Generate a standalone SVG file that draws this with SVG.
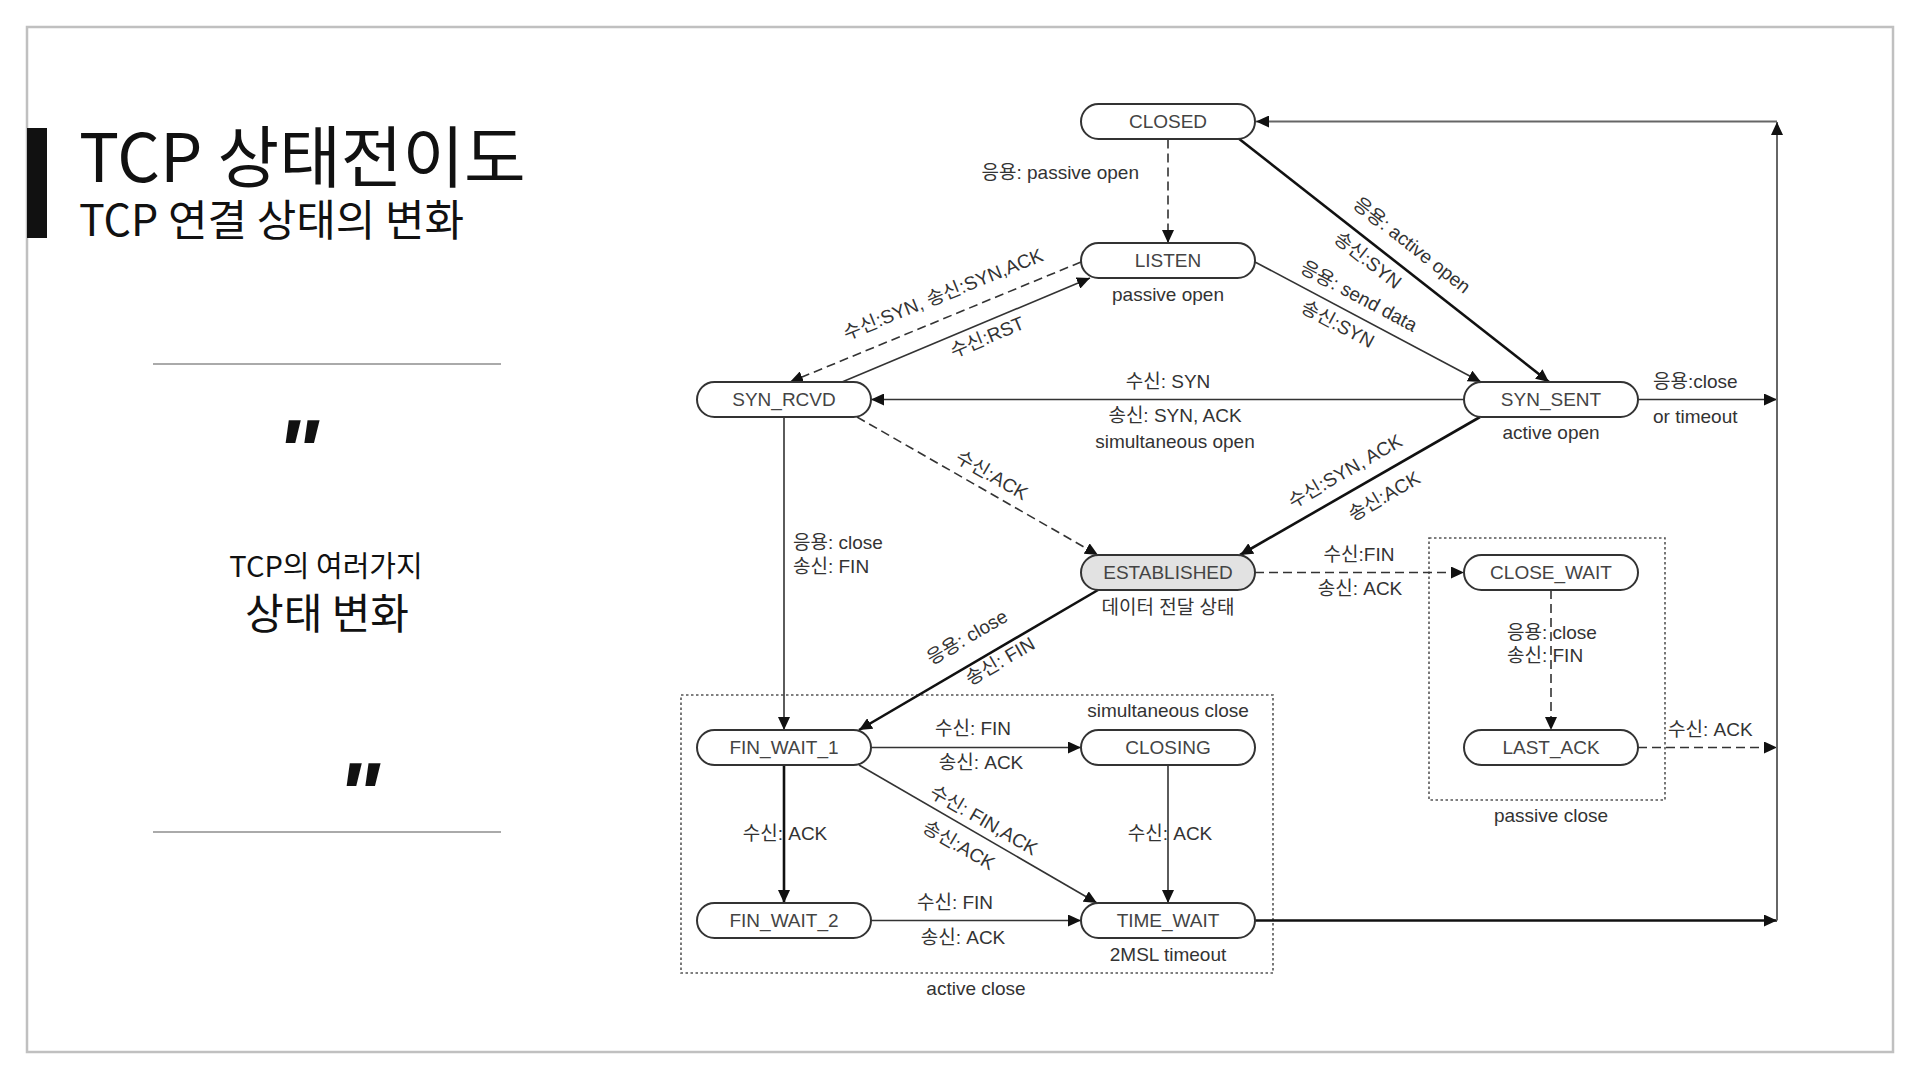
<svg xmlns="http://www.w3.org/2000/svg" width="1920" height="1080" viewBox="0 0 1920 1080">
<defs>
<style>
.bg{fill:#fff}
.frame{fill:none;stroke:#c0c0c0;stroke-width:2.5}
.node rect{fill:#fff;stroke:#333;stroke-width:2}
.node.est rect{fill:#e2e2e2}
.nt{font-family:"Liberation Sans","Noto Sans CJK KR",sans-serif;font-size:19px;fill:#444;text-anchor:middle}
.lbl{font-family:"Liberation Sans","Noto Sans CJK KR",sans-serif;font-size:19px;fill:#333}
.mid{text-anchor:middle}
.end{text-anchor:end}
.ln{fill:none;stroke:#333;stroke-width:1.6}
.thick{stroke:#111;stroke-width:2.6}
.dash{stroke-dasharray:9 5}
.gray{stroke:#666;stroke-width:2}
.group{fill:none;stroke:#555;stroke-width:1.6;stroke-dasharray:2.5 2.5}
.ko{font-family:"Noto Sans CJK KR","Noto Sans",sans-serif;fill:#111}
.quote{font-family:"Liberation Sans",sans-serif;font-size:90px;font-weight:bold;font-style:italic;fill:#111}
</style>
<marker id="arr" markerUnits="userSpaceOnUse" markerWidth="14" markerHeight="12" refX="13" refY="6" orient="auto">
<path d="M0,0 L13,6 L0,12 z" fill="#111"/>
</marker>
</defs>
<rect class="bg" x="0" y="0" width="1920" height="1080"/>
<rect class="frame" x="27" y="27" width="1866" height="1025"/>

<g id="title">
<rect x="27" y="128" width="20" height="110" fill="#111"/>
<text class="ko" x="79" y="182" font-size="67">TCP 상태전이도</text>
<text class="ko" x="79" y="236" font-size="43">TCP 연결 상태의 변화</text>
</g>

<g id="side-panel">
<line x1="153" y1="364" x2="501" y2="364" stroke="#aaa" stroke-width="2"/>
<line x1="153" y1="832" x2="501" y2="832" stroke="#aaa" stroke-width="2"/>
<text class="quote" x="276" y="483">"</text>
<text class="quote" x="337" y="826">"</text>
<text class="ko" x="326" y="577" font-size="29" text-anchor="middle">TCP의 여러가지</text>
<text class="ko" x="327" y="629" font-size="42" text-anchor="middle">상태 변화</text>
</g>

<g id="groups">
<rect class="group" x="681" y="695" width="592" height="278"/>
<rect class="group" x="1429" y="538" width="236" height="262"/>
<text class="lbl mid" x="1168" y="717">simultaneous close</text>
<text class="lbl mid" x="976" y="995">active close</text>
<text class="lbl mid" x="1551" y="822">passive close</text>
</g>

<g id="connectors">
<path class="ln dash" d="M1168,139.5 V243" marker-end="url(#arr)"/>
<path class="ln thick" d="M1238,138 L1549,382" marker-end="url(#arr)"/>
<path class="ln" d="M1255,262 L1481,382" marker-end="url(#arr)"/>
<path class="ln dash" d="M1081,262 L790,382" marker-end="url(#arr)"/>
<path class="ln" d="M842,382 L1090,278" marker-end="url(#arr)"/>
<path class="ln" d="M1464,399.5 H871" marker-end="url(#arr)"/>
<path class="ln dash" d="M857,417 L1098,555" marker-end="url(#arr)"/>
<path class="ln thick" d="M1480,417 L1240,555" marker-end="url(#arr)"/>
<path class="ln" d="M784,417 V730" marker-end="url(#arr)"/>
<path class="ln thick" d="M1098,590 L859,730" marker-end="url(#arr)"/>
<path class="ln dash" d="M1255,572.5 H1464" marker-end="url(#arr)"/>
<path class="ln dash" d="M1551,590 V730" marker-end="url(#arr)"/>
<path class="ln dash" d="M1638,747.5 H1777" marker-end="url(#arr)"/>
<path class="ln" d="M871,747.5 H1081" marker-end="url(#arr)"/>
<path class="ln thick" d="M784,765 V903" marker-end="url(#arr)"/>
<path class="ln" d="M859,765 L1097,903" marker-end="url(#arr)"/>
<path class="ln" d="M1168,765 V903" marker-end="url(#arr)"/>
<path class="ln" d="M871,920.5 H1081" marker-end="url(#arr)"/>
<path class="ln thick" d="M1255,920.5 H1777" marker-end="url(#arr)"/>
<path class="ln" d="M1638,399.5 H1777" marker-end="url(#arr)"/>
<path class="ln gray" d="M1777,920.5 V122" marker-end="url(#arr)"/>
<path class="ln gray" d="M1777,121.5 H1256" marker-end="url(#arr)"/>

<text class="lbl end" x="1139" y="179">응용: passive open</text>
<text class="lbl mid" transform="translate(943,294) rotate(-22)" dy="0.35em">수신:SYN, 송신:SYN,ACK</text>
<text class="lbl mid" transform="translate(987,337) rotate(-22.5)" dy="0.35em">수신:RST</text>
<text class="lbl mid" transform="translate(1412,245) rotate(38)" dy="0.35em">응용: active open</text>
<text class="lbl mid" transform="translate(1368,260) rotate(38)" dy="0.35em">송신:SYN</text>
<text class="lbl mid" transform="translate(1359,296) rotate(28)" dy="0.35em">응용: send data</text>
<text class="lbl mid" transform="translate(1338,324) rotate(28)" dy="0.35em">송신:SYN</text>
<text class="lbl mid" x="1168" y="388">수신: SYN</text>
<text class="lbl mid" x="1175" y="422">송신: SYN, ACK</text>
<text class="lbl mid" x="1175" y="448">simultaneous open</text>
<text class="lbl" x="1653" y="388">응용:close</text>
<text class="lbl" x="1653" y="423">or timeout</text>
<text class="lbl mid" transform="translate(992,475) rotate(30)" dy="0.35em">수신:ACK</text>
<text class="lbl mid" transform="translate(1345,471) rotate(-30)" dy="0.35em">수신:SYN, ACK</text>
<text class="lbl mid" transform="translate(1384,496) rotate(-30)" dy="0.35em">송신:ACK</text>
<text class="lbl" x="793" y="549">응용: close</text>
<text class="lbl" x="793" y="573">송신: FIN</text>
<text class="lbl mid" transform="translate(967,637) rotate(-30)" dy="0.35em">응용: close</text>
<text class="lbl mid" transform="translate(1000,661) rotate(-30)" dy="0.35em">송신: FIN</text>
<text class="lbl mid" x="1359" y="561">수신:FIN</text>
<text class="lbl mid" x="1360" y="595">송신: ACK</text>
<text class="lbl" x="1507" y="639">응용: close</text>
<text class="lbl" x="1507" y="662">송신: FIN</text>
<text class="lbl" x="1668" y="736">수신: ACK</text>
<text class="lbl mid" x="973" y="735">수신: FIN</text>
<text class="lbl mid" x="981" y="769">송신: ACK</text>
<text class="lbl mid" x="785" y="840">수신: ACK</text>
<text class="lbl mid" x="1170" y="840">수신: ACK</text>
<text class="lbl mid" transform="translate(984,820) rotate(30)" dy="0.35em">수신: FIN,ACK</text>
<text class="lbl mid" transform="translate(959,845) rotate(30)" dy="0.35em">송신:ACK</text>
<text class="lbl mid" x="955" y="909">수신: FIN</text>
<text class="lbl mid" x="963" y="944">송신: ACK</text>
</g>

<g id="CLOSED" class="node"><rect x="1081" y="104" width="174" height="35" rx="17.5"/><text class="nt" x="1168" y="128">CLOSED</text></g>
<g id="LISTEN" class="node"><rect x="1081" y="243" width="174" height="35" rx="17.5"/><text class="nt" x="1168" y="267">LISTEN</text><text class="lbl mid" x="1168" y="301">passive open</text></g>
<g id="SYN_RCVD" class="node"><rect x="697" y="382" width="174" height="35" rx="17.5"/><text class="nt" x="784" y="406">SYN_RCVD</text></g>
<g id="SYN_SENT" class="node"><rect x="1464" y="382" width="174" height="35" rx="17.5"/><text class="nt" x="1551" y="406">SYN_SENT</text><text class="lbl mid" x="1551" y="439">active open</text></g>
<g id="ESTABLISHED" class="node est"><rect x="1081" y="555" width="174" height="35" rx="17.5"/><text class="nt" x="1168" y="579">ESTABLISHED</text><text class="lbl mid" x="1168" y="614">데이터 전달 상태</text></g>
<g id="CLOSE_WAIT" class="node"><rect x="1464" y="555" width="174" height="35" rx="17.5"/><text class="nt" x="1551" y="579">CLOSE_WAIT</text></g>
<g id="LAST_ACK" class="node"><rect x="1464" y="730" width="174" height="35" rx="17.5"/><text class="nt" x="1551" y="754">LAST_ACK</text></g>
<g id="FIN_WAIT_1" class="node"><rect x="697" y="730" width="174" height="35" rx="17.5"/><text class="nt" x="784" y="754">FIN_WAIT_1</text></g>
<g id="CLOSING" class="node"><rect x="1081" y="730" width="174" height="35" rx="17.5"/><text class="nt" x="1168" y="754">CLOSING</text></g>
<g id="FIN_WAIT_2" class="node"><rect x="697" y="903" width="174" height="35" rx="17.5"/><text class="nt" x="784" y="927">FIN_WAIT_2</text></g>
<g id="TIME_WAIT" class="node"><rect x="1081" y="903" width="174" height="35" rx="17.5"/><text class="nt" x="1168" y="927">TIME_WAIT</text><text class="lbl mid" x="1168" y="961">2MSL timeout</text></g>
</svg>
